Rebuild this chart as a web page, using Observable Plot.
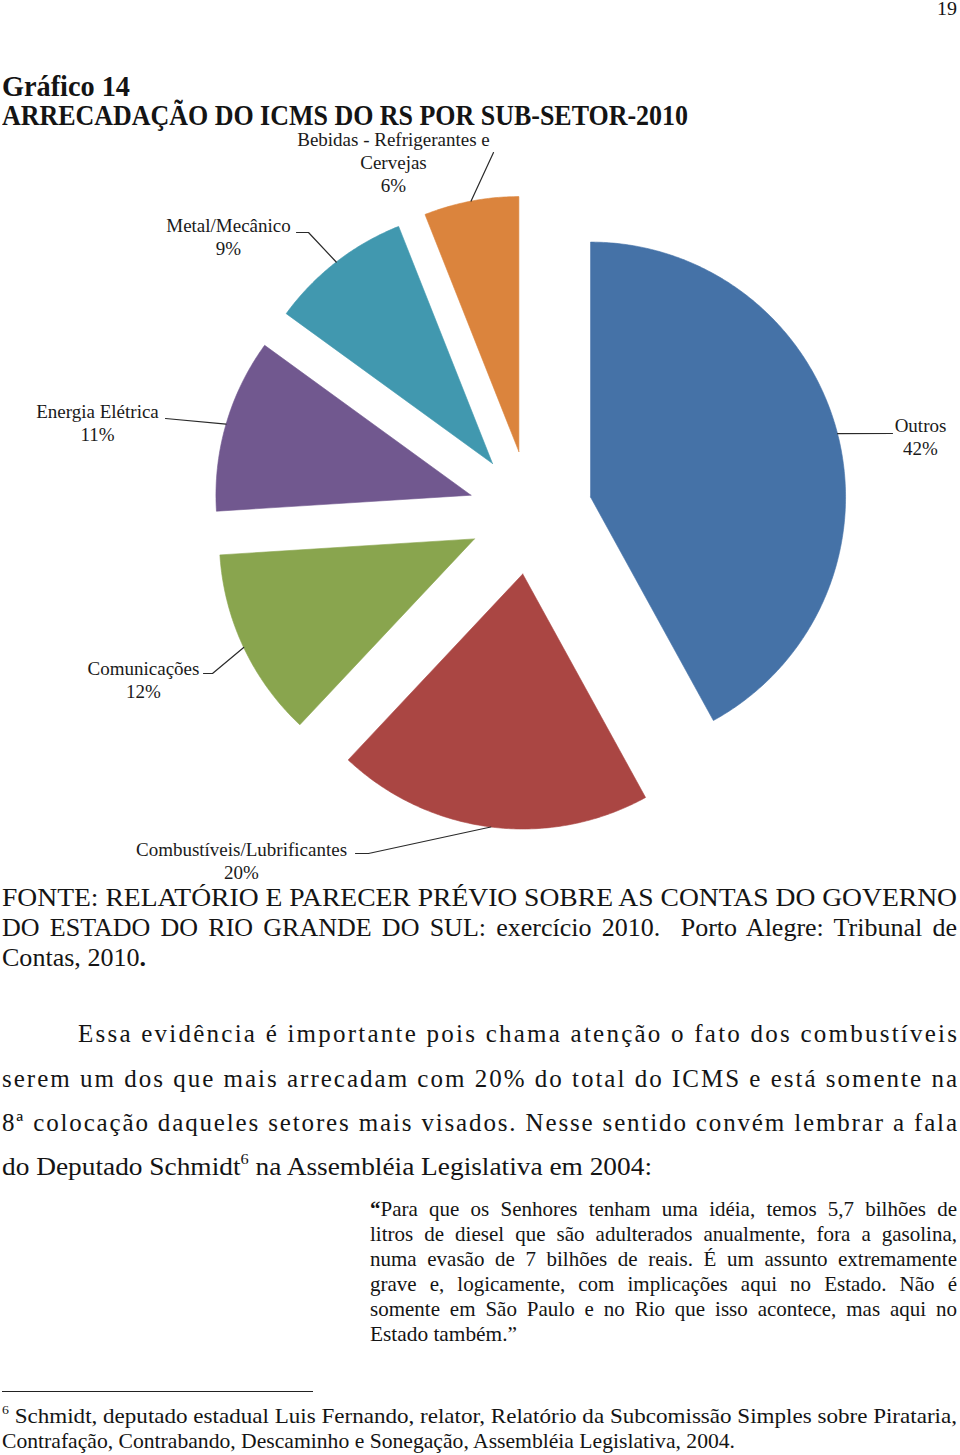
<!DOCTYPE html>
<html><head><meta charset="utf-8">
<script src="https://cdn.jsdelivr.net/npm/d3@7"></script>
<script src="https://cdn.jsdelivr.net/npm/@observablehq/plot@0.6"></script>
<style>
html,body{margin:0;padding:0;background:#fff}
body{width:960px;height:1455px;position:relative;overflow:hidden;font-family:"Liberation Serif","Times New Roman",serif;color:#141414}
.ln{position:absolute;white-space:nowrap;line-height:1;transform-origin:0 0}
.ln sup{font-size:0.6em;vertical-align:0;position:relative;top:-0.75em}
#chart{position:absolute;left:0;top:128px}
</style></head><body>
<div id="chart"></div>
<script>
// ---- chart data ----
const categories = ["Outros", "Combustíveis/Lubrificantes", "Comunicações", "Energia Elétrica", "Metal/Mecânico", "Bebidas - Refrigerantes e Cervejas"];
const shares = [42, 20, 12, 11, 9, 6];
const labelNames = ["Outros", "Combustíveis/Lubrificantes", "Comunicações", "Energia Elétrica", "Metal/Mecânico", "Bebidas - Refrigerantes e\nCervejas"];
const sliceColors = ["#4572A7", "#AA4643", "#89A54E", "#71588F", "#4198AF", "#DB843D"];

// ---- layout (pixel positions of label blocks and leader-line starts) ----
const labelAt = [[920, 454], [241, 878], [143, 697], [97, 440], [228, 254], [393, 191]];
const leaderStart = [
  [[892, 433]],
  [[355, 853], [368, 853]],
  [[203, 673], [212, 673]],
  [[165, 418]],
  [[296, 232], [308, 232]],
  [[493, 152]]
];
const CX = 530, CY = 512, R = 255, OFF = 62;
const TOP = 128, H = 762;

const rows = categories.map((c, i) => ({cat: c, share: shares[i]}));
const arcs = d3.pie().sort(null).value(d => d.share)(rows);

const polys = [], leaders = [], labels = [];
arcs.forEach((p, i) => {
  const cat = p.data.cat;
  const mid = (p.startAngle + p.endAngle) / 2;
  const ox = CX + OFF * Math.sin(mid), oy = CY - OFF * Math.cos(mid);
  polys.push({cat, x: ox, y: oy});
  const n = Math.max(2, Math.ceil((p.endAngle - p.startAngle) / 0.01));
  for (let k = 0; k <= n; k++) {
    const a = p.startAngle + (p.endAngle - p.startAngle) * k / n;
    polys.push({cat, x: ox + R * Math.sin(a), y: oy - R * Math.cos(a)});
  }
  polys.push({cat, x: ox, y: oy});
  leaderStart[i].forEach(([x, y]) => leaders.push({cat, x, y}));
  leaders.push({cat, x: ox + R * Math.sin(mid), y: oy - R * Math.cos(mid)});
  labels.push({cat, x: labelAt[i][0], y: labelAt[i][1], text: labelNames[i] + "\n" + p.data.share + "%"});
});

const chart = Plot.plot({
  width: 960, height: H, margin: 0,
  x: {domain: [0, 960], axis: null},
  y: {domain: [TOP, TOP + H], reverse: true, axis: null},
  color: {domain: categories, range: sliceColors},
  style: {background: "transparent", fontFamily: "'Liberation Serif','Times New Roman',serif", color: "#141414", overflow: "visible"},
  marks: [
    Plot.line(polys, {x: "x", y: "y", z: "cat", fill: "cat", stroke: "cat", strokeWidth: 0.6, curve: "linear"}),
    Plot.line(leaders, {x: "x", y: "y", z: "cat", stroke: "#2a2a2a", strokeWidth: 1.2}),
    Plot.text(labels, {x: "x", y: "y", text: "text", lineAnchor: "bottom", textAnchor: "middle", fontSize: 19, lineHeight: 1.21, fill: "#1a1a1a"})
  ]
});
document.getElementById("chart").appendChild(chart);

// ---- page text ----
const pageLines = [
  {t: "19", x: 937, b: 15, w: 20, s: 19},
  {t: "Gráfico 14", x: 2, b: 96, w: 128, s: 29, bold: true},
  {t: "ARRECADAÇÃO DO ICMS DO RS POR SUB-SETOR-2010", x: 2, b: 125, w: 686, s: 29, bold: true},
  {t: "FONTE: RELATÓRIO E PARECER PRÉVIO SOBRE AS CONTAS DO GOVERNO", x: 2, b: 907, w: 955, s: 26},
  {t: "DO ESTADO DO RIO GRANDE DO SUL: exercício 2010.&nbsp; Porto Alegre: Tribunal de", x: 2, b: 937, w: 955, s: 26, mode: "word"},
  {t: "Contas, 2010<b>.</b>", x: 2, b: 967, w: 144, s: 26},
  {t: "Essa evidência é importante pois chama atenção o fato dos combustíveis", x: 78, b: 1042, w: 879, s: 25, mode: "letter"},
  {t: "serem um dos que mais arrecadam com 20% do total do ICMS e está somente na", x: 2, b: 1087, w: 955, s: 25, mode: "letter"},
  {t: "8ª colocação daqueles setores mais visados. Nesse sentido convém lembrar a fala", x: 2, b: 1131, w: 955, s: 25, mode: "letter"},
  {t: "do Deputado Schmidt<sup>6</sup> na Assembléia Legislativa em 2004:", x: 2, b: 1176, w: 650, s: 26},
  {t: "<b>“</b>Para que os Senhores tenham uma idéia, temos 5,7 bilhões de", x: 370, b: 1217, w: 587, s: 21, mode: "word"},
  {t: "litros de diesel que são adulterados anualmente, fora a gasolina,", x: 370, b: 1242, w: 587, s: 21, mode: "word"},
  {t: "numa evasão de 7 bilhões de reais. É um assunto extremamente", x: 370, b: 1267, w: 587, s: 21, mode: "word"},
  {t: "grave e, logicamente, com implicações aqui no Estado. Não é", x: 370, b: 1292, w: 587, s: 21, mode: "word"},
  {t: "somente em São Paulo e no Rio que isso acontece, mas aqui no", x: 370, b: 1317, w: 587, s: 21, mode: "word"},
  {t: "Estado também.”", x: 370, b: 1342, w: 147, s: 21},
  {t: "<sup>6</sup> Schmidt, deputado estadual Luis Fernando, relator, Relatório da Subcomissão Simples sobre Pirataria,", x: 2, b: 1424, w: 955, s: 21},
  {t: "Contrafação, Contrabando, Descaminho e Sonegação, Assembléia Legislativa, 2004.", x: 2, b: 1449, w: 733, s: 21}
];
pageLines.forEach(L => {
  const d = document.createElement("div");
  d.className = "ln";
  d.innerHTML = L.t;
  d.style.fontSize = L.s + "px";
  if (L.bold) d.style.fontWeight = "bold";
  d.style.left = L.x + "px";
  d.style.top = (L.b - 0.8375 * L.s) + "px";
  document.body.appendChild(d);
  const nat = d.getBoundingClientRect().width;
  const extra = L.w - nat;
  if (L.mode === "letter" && extra > 0) {
    const n = d.textContent.length - 1;
    d.style.letterSpacing = (extra / n) + "px";
  } else if (L.mode === "word" && extra > 0) {
    const n = (d.textContent.match(/[ \u00a0]/g) || []).length;
    d.style.wordSpacing = (extra / Math.max(1, n)) + "px";
    const after = d.getBoundingClientRect().width;
    if (Math.abs(after - L.w) > 1) d.style.transform = "scaleX(" + (L.w / after) + ")";
  } else {
    d.style.transform = "scaleX(" + (L.w / nat) + ")";
  }
});
// footnote rule
const rule = document.createElement("div");
rule.style.cssText = "position:absolute;left:2px;top:1391px;width:311px;height:1px;background:#222";
document.body.appendChild(rule);
</script></body></html>
